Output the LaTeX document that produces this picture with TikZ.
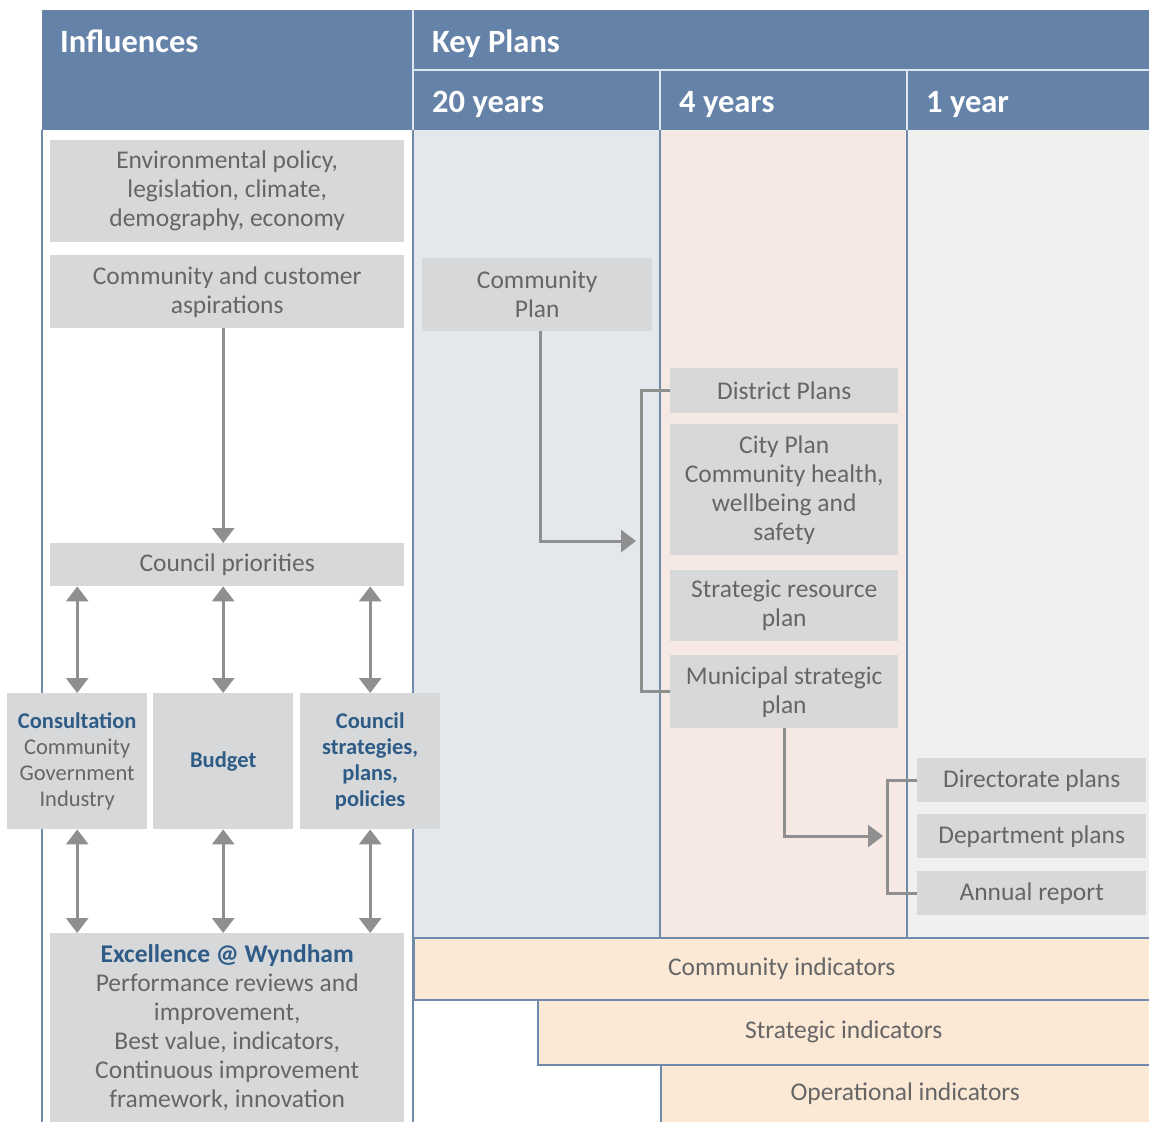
\documentclass[tikz,border=0pt]{standalone}
\usepackage{fontspec}
\setmainfont{Carlito}
\usepackage{xcolor}
\usepackage{tikz}
\usetikzlibrary{positioning}
\usetikzlibrary{arrows.meta}

\definecolor{hdrblue}{HTML}{6583A8}
\definecolor{hdrline}{HTML}{DCE6F0}
\definecolor{rule}{HTML}{6F8AAB}
\definecolor{colyears}{HTML}{E4E7EC}
\definecolor{colfour}{HTML}{F6E8E3}
\definecolor{colone}{HTML}{EEF1ED}
\definecolor{boxgrey}{HTML}{D6D8DA}
\definecolor{txtgrey}{HTML}{666666}
\definecolor{arrgrey}{HTML}{8F8F8F}
\definecolor{titleblue}{HTML}{2E5C87}
\definecolor{peach}{HTML}{FBE8D5}

\tikzset{
  greybox/.style={fill=boxgrey, text=txtgrey, anchor=north west, inner sep=0pt,
    align=center, font=\fontsize{25.5}{29}\selectfont},
  smallbox/.style={greybox, font=\fontsize{22.5}{26}\selectfont},
  indbox/.style={greybox, fill=peach, draw=rule, line width=1.5pt},
  hdrtext/.style={anchor=base west, text=white, inner sep=0pt,
    font=\fontsize{32.5}{36}\selectfont\bfseries},
  link/.style={draw=arrgrey, line width=3pt},
  flow/.style={link, -{Triangle[width=22pt,length=15pt]}},
  flowboth/.style={link, {Triangle[width=22pt,length=15pt]}-{Triangle[width=22pt,length=15pt]}},
}
\newcommand{\keyword}[1]{\textcolor{titleblue}{\textbf{#1}}}

\begin{document}
\begin{tikzpicture}[x=1pt, y=-1pt]

\useasboundingbox (0,0) rectangle (1149,1122);

% columns and header

\fill [colyears] (413,130) rectangle (660,937);
\fill [colfour] (660,130) rectangle (907,937);
\fill [colone] (907,130) rectangle (1149,937);
\fill [hdrblue] (42,10) rectangle (1149,130);
\draw [hdrline, line width=2pt] (413,70) -- (1149,70);
\draw [hdrline, line width=2pt] (413,10) -- (413,130);
\draw [hdrline, line width=2pt] (660,70) -- (660,130);
\draw [hdrline, line width=2pt] (907,70) -- (907,130);
\draw [rule, line width=1.5pt] (42,130) -- (42,1122);
\draw [rule, line width=1.5pt] (413,130) -- (413,1122);
\draw [rule, line width=1.5pt] (660,130) -- (660,937);
\draw [rule, line width=1.5pt] (907,130) -- (907,937);

\node [hdrtext] at (60,52) (infl) {Influences};
\node [hdrtext] at (432,52) (keyplans) {Key Plans};
\node [hdrtext] at (432,112) (twenty) {20 years};
\node [hdrtext] at (679,112) (four) {4 years};
\node [hdrtext] at (926,112) (one) {1 year};

% influences

\node [greybox, minimum width=354, minimum height=102] at (50,140) (env) {Environmental policy,\\ legislation, climate,\\ demography, economy};
\node [greybox, minimum width=354, minimum height=73] at (50,255) (asp) {Community and customer\\ aspirations};
\node [greybox, minimum width=354, minimum height=43] at (50,543) (prio) {Council priorities};
\node [smallbox, minimum width=140, minimum height=136] at (7,693) (cons) {\keyword{Consultation}\\ Community\\ Government\\ Industry};
\node [smallbox, minimum width=140, minimum height=136] at (153,693) (budget) {\keyword{Budget}};
\node [smallbox, minimum width=140, minimum height=136] at (300,693) (strat) {\keyword{Council}\\ \keyword{strategies,}\\ \keyword{plans,}\\ \keyword{policies}};
\node [greybox, minimum width=354, minimum height=189] at (50,933) (excel) {\keyword{Excellence @ Wyndham}\\ Performance reviews and\\ improvement,\\ Best value, indicators,\\ Continuous improvement\\ framework, innovation};

\path [flow] ([xshift=-4]asp.south) to ([xshift=-4]prio.north);
\foreach \n in {cons, budget, strat} {
  \path [flowboth] (\n.north |- prio.south) to (\n.north);
  \path [flowboth] (\n.south) to (\n.south |- excel.north);
}

% key plans

\node [greybox, minimum width=230, minimum height=73] at (422,258) (cplan) {Community\\ Plan};
\node [greybox, minimum width=228, minimum height=45] at (670,368) (district) {District Plans};
\node [greybox, minimum width=228, minimum height=131] at (670,424) (city) {City Plan\\ Community health,\\ wellbeing and\\ safety};
\node [greybox, minimum width=228, minimum height=71] at (670,570) (resource) {Strategic resource\\ plan};
\node [greybox, minimum width=228, minimum height=73] at (670,655) (municipal) {Municipal strategic\\ plan};
\node [greybox, minimum width=229, minimum height=44] at (917,758) (direct) {Directorate plans};
\node [greybox, minimum width=229, minimum height=44] at (917,814) (dept) {Department plans};
\node [greybox, minimum width=229, minimum height=44] at (917,871) (annual) {Annual report};

\coordinate (brackA) at (641,541);
\coordinate (brackB) at (887,836);
\path [link] (district.west) -| (brackA) |- (municipal.west);
\path [flow] ([xshift=3]cplan.south) |- ([xshift=-5]brackA);
\path [link] (direct.west) -| (brackB) |- (annual.west);
\path [flow] (municipal.south) |- ([xshift=-4]brackB);

% indicators

\node [indbox, minimum width=736, minimum height=62] at (413,937) (commind) {Community indicators};
\node [indbox, minimum width=612, minimum height=65] at (537,999) (stratind) {Strategic indicators};
\node [indbox, minimum width=489, minimum height=58] at (660,1064) (opind) {Operational indicators};

\end{tikzpicture}
\end{document}
